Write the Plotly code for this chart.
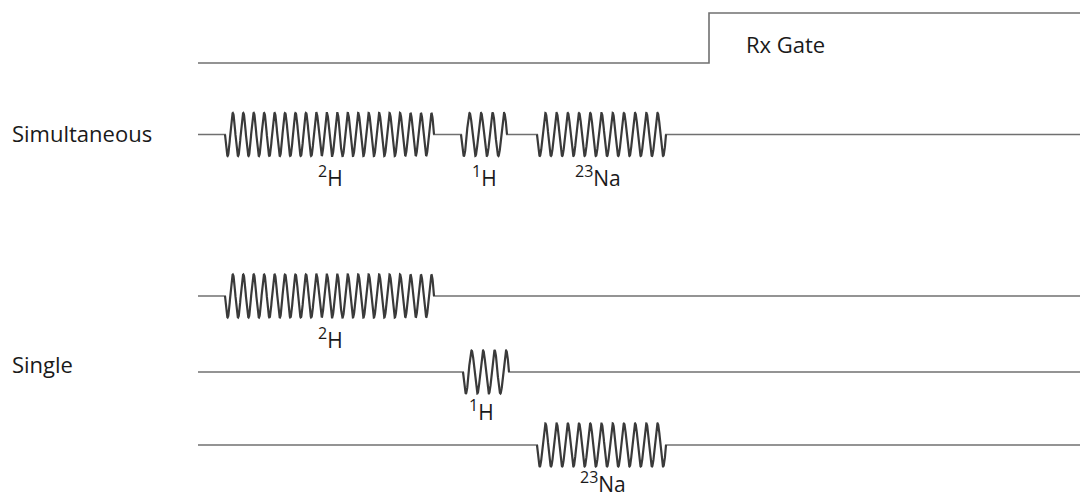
import numpy as np
import plotly.graph_objects as go

# Timeline rows (baseline levels in diagram units; y grows downward)
row_names = ["Rx Gate", "Simultaneous", "Single 2H", "Single 1H", "Single 23Na"]
row_levels = [63, 134.5, 296, 372, 445]
line_start = 198
line_end = 1090

# Rx gate
gate_low = 63
gate_high = 13
gate_on = 709

# Pulses: row index, start, end, number of cycles, label
pulse_rows = [1, 1, 1, 2, 3, 4]
pulse_start = [225, 461, 537, 225, 463, 537]
pulse_end = [434, 507, 666, 434, 509, 666]
pulse_cycles = [20, 4, 11.5, 20, 4, 11.5]
pulse_sup = ["2", "1", "23", "2", "1", "23"]
pulse_base = ["H", "H", "Na", "H", "H", "Na"]
pulse_amp = 21.5
label_x = [330, 484, 598, 330, 481, 603]
label_y = [176, 176, 176, 338, 410, 482]

side_labels = ["Simultaneous", "Single"]
side_label_y = [133, 364]

fig = go.Figure()

line_col = "#707070"
wave_col = "#3a3a3a"
font_fam = "Open Sans"

# Rx gate trace
fig.add_trace(go.Scatter(
    x=[line_start, gate_on, gate_on, line_end],
    y=[gate_low, gate_low, gate_high, gate_high],
    mode="lines", line=dict(color=line_col, width=1.6), hoverinfo="skip"))

for r in range(1, len(row_levels)):
    base = row_levels[r]
    fig.add_trace(go.Scatter(x=[line_start, line_end], y=[base, base], mode="lines",
                             line=dict(color=line_col, width=1.6), hoverinfo="skip"))
    for i, pr in enumerate(pulse_rows):
        if pr != r:
            continue
        t = np.linspace(0, 1, 800)
        xx = pulse_start[i] + t * (pulse_end[i] - pulse_start[i])
        yy = base + pulse_amp * np.sin(2 * np.pi * pulse_cycles[i] * t)
        fig.add_trace(go.Scatter(x=[pulse_start[i] + 1, pulse_end[i] - 1], y=[base, base],
                                 mode="lines", line=dict(color="white", width=4),
                                 hoverinfo="skip"))
        fig.add_trace(go.Scatter(x=xx, y=yy, mode="lines",
                                 line=dict(color=wave_col, width=2.2), hoverinfo="skip"))
        txt = ("<sup><span style='font-size:16px'>" + pulse_sup[i] + "</span></sup>"
               + pulse_base[i])
        fig.add_annotation(x=label_x[i], y=label_y[i], text=txt,
                           showarrow=False, font=dict(size=21, color="#1a1a1a",
                                                       family=font_fam),
                           xanchor="center", yanchor="middle")

fig.add_annotation(x=744, y=44, text="Rx Gate", showarrow=False, xanchor="left",
                   yanchor="middle", font=dict(size=22, color="#1a1a1a", family=font_fam))
for lbl, yy in zip(side_labels, side_label_y):
    fig.add_annotation(x=10, y=yy, text=lbl, showarrow=False, xanchor="left",
                       yanchor="middle", font=dict(size=22, color="#1a1a1a", family=font_fam))

# The page body has an 8px margin, so the figure covers pixels 8..1088 x 8..498
fig.update_layout(
    width=1080, height=490, margin=dict(l=0, r=0, t=0, b=0),
    plot_bgcolor="white", paper_bgcolor="white", showlegend=False,
    xaxis=dict(range=[8, 1088], visible=False, fixedrange=True),
    yaxis=dict(range=[498, 8], visible=False, fixedrange=True),
)
fig.write_html("out.html")
